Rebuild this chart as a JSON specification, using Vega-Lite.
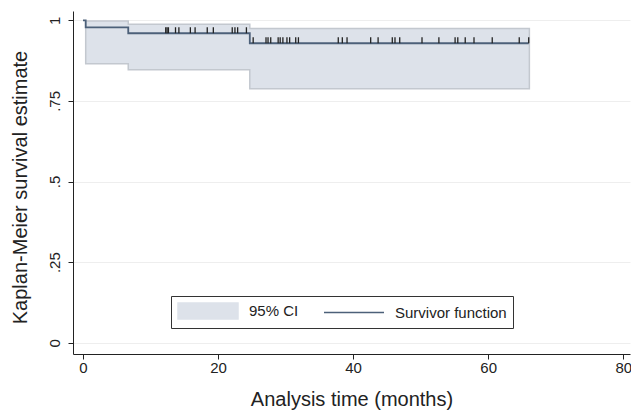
{
  "$schema": "https://vega.github.io/schema/vega-lite/v6.json",
  "width": 557,
  "height": 343,
  "autosize": "none",
  "padding": {"left": 73, "top": 11, "right": 1, "bottom": 58},
  "background": "white",
  "config": {
    "font": "Liberation Sans",
    "view": {"stroke": null},
    "axis": {"domainColor": "#222", "tickColor": "#222", "labelColor": "#222", "titleColor": "#222", "titleFontWeight": "normal", "labelFont": "Liberation Sans", "titleFont": "Liberation Sans"}
  },
  "datasets": {
    "surv": [
      {"t": 0, "s": 1},
      {"t": 0.4, "s": 0.978},
      {"t": 6.7, "s": 0.96},
      {"t": 24.7, "s": 0.929},
      {"t": 66.0, "s": 0.929}
    ],
    "band": [
      {"t": 0.4, "lo": 0.865, "hi": 0.998},
      {"t": 6.7, "lo": 0.847, "hi": 0.988},
      {"t": 24.7, "lo": 0.788, "hi": 0.975},
      {"t": 66.1, "lo": 0.788, "hi": 0.975}
    ],
    "cens": [
      {"t": 12.25, "s": 0.96}, {"t": 12.45, "s": 0.96}, {"t": 12.65, "s": 0.96},
      {"t": 13.7, "s": 0.96}, {"t": 14.2, "s": 0.96}, {"t": 15.9, "s": 0.96},
      {"t": 16.6, "s": 0.96}, {"t": 18.4, "s": 0.96}, {"t": 19.3, "s": 0.96},
      {"t": 22.1, "s": 0.96}, {"t": 22.5, "s": 0.96}, {"t": 22.9, "s": 0.96},
      {"t": 24.2, "s": 0.96},
      {"t": 25.2, "s": 0.929}, {"t": 27.1, "s": 0.929}, {"t": 27.4, "s": 0.929},
      {"t": 27.8, "s": 0.929}, {"t": 28.9, "s": 0.929}, {"t": 29.2, "s": 0.929},
      {"t": 29.6, "s": 0.929}, {"t": 30.2, "s": 0.929}, {"t": 30.6, "s": 0.929},
      {"t": 31.5, "s": 0.929}, {"t": 31.9, "s": 0.929}, {"t": 37.8, "s": 0.929},
      {"t": 38.4, "s": 0.929}, {"t": 39.1, "s": 0.929}, {"t": 42.6, "s": 0.929},
      {"t": 43.7, "s": 0.929}, {"t": 45.8, "s": 0.929}, {"t": 46.2, "s": 0.929},
      {"t": 46.9, "s": 0.929}, {"t": 50.2, "s": 0.929}, {"t": 52.7, "s": 0.929},
      {"t": 55.1, "s": 0.929}, {"t": 55.5, "s": 0.929}, {"t": 56.6, "s": 0.929},
      {"t": 57.9, "s": 0.929}, {"t": 60.6, "s": 0.929}, {"t": 64.6, "s": 0.929},
      {"t": 66.0, "s": 0.929}
    ]
  },
  "encoding": {
    "x": {
      "type": "quantitative",
      "scale": {"domain": [-1.48, 81], "nice": false, "zero": false},
      "axis": {
        "values": [0, 20, 40, 60, 80],
        "title": "Analysis time (months)",
        "titleFontSize": 20,
        "titleY": 45,
        "titleBaseline": "middle",
        "labelFontSize": 15,
        "tickSize": 5,
        "labelPadding": 1,
        "grid": false,
        "labelFlush": false
      }
    },
    "y": {
      "type": "quantitative",
      "scale": {"domain": [-0.035, 1.029], "nice": false, "zero": false},
      "axis": {
        "values": [0, 0.25, 0.5, 0.75, 1],
        "labelExpr": "datum.value == 0 ? '0' : datum.value == 1 ? '1' : replace(format(datum.value, '.2~f'), '0.', '.')",
        "labelAngle": 270,
        "labelAlign": "center",
        "labelBaseline": "bottom",
        "labelFontSize": 15,
        "labelPadding": 6,
        "labelFlush": false,
        "tickSize": 5,
        "grid": true,
        "gridColor": "#eeeeee",
        "gridWidth": 1,
        "title": "Kaplan-Meier survival estimate",
        "titleFontSize": 20,
        "titleAngle": 270,
        "titleX": -53,
        "titleY": 176,
        "titleAlign": "center",
        "titleBaseline": "middle"
      }
    }
  },
  "layer": [
    {
      "data": {"name": "band"},
      "mark": {"type": "area", "interpolate": "step-after", "opacity": 1, "fill": "#dde2ea", "stroke": "#c3c8cf", "strokeWidth": 1.5},
      "encoding": {
        "x": {"field": "t", "type": "quantitative"},
        "y": {"field": "lo", "type": "quantitative"},
        "y2": {"field": "hi"}
      }
    },
    {
      "data": {"name": "surv"},
      "mark": {"type": "line", "interpolate": "step-after", "strokeWidth": 1.8},
      "encoding": {
        "x": {"field": "t", "type": "quantitative"},
        "y": {"field": "s", "type": "quantitative"},
        "color": {
          "datum": "Survivor function",
          "type": "nominal",
          "scale": {"domain": ["95% CI", "Survivor function"], "range": ["#dde2ea", "#4c6079"]},
          "legend": {
            "title": null,
            "orient": "none",
            "legendX": 98,
            "legendY": 285,
            "direction": "horizontal",
            "strokeColor": "#333",
            "fillColor": "white",
            "padding": 6,
            "labelFontSize": 15,
            "labelFont": "Liberation Sans",
            "labelColor": "#222",
            "symbolSize": 256,
            "labelOffset": 54,
            "columnPadding": 22,
            "labelExpr": "datum.label === 'Survivor function' ? datum.label + '     ' : datum.label",
            "encode": {
              "symbols": {
                "update": {
                  "shape": {"signal": "datum.value === '95% CI' ? 'M-1,-1H6.5V1H-1Z' : 'M-1,0H6.5'"},
                  "fill": {"signal": "datum.value === '95% CI' ? '#dde2ea' : 'transparent'"},
                  "stroke": {"signal": "datum.value === '95% CI' ? 'transparent' : '#4c6079'"},
                  "strokeWidth": {"value": 1.5},
                  "opacity": {"value": 1},
                  "size": {"value": 256}
                }
              }
            }
          }
        }
      }
    },
    {
      "data": {"name": "cens"},
      "mark": {"type": "tick", "orient": "vertical", "size": 6, "thickness": 1.3, "color": "#222", "opacity": 1, "yOffset": -3},
      "encoding": {
        "x": {"field": "t", "type": "quantitative"},
        "y": {"field": "s", "type": "quantitative"}
      }
    }
  ]
}
